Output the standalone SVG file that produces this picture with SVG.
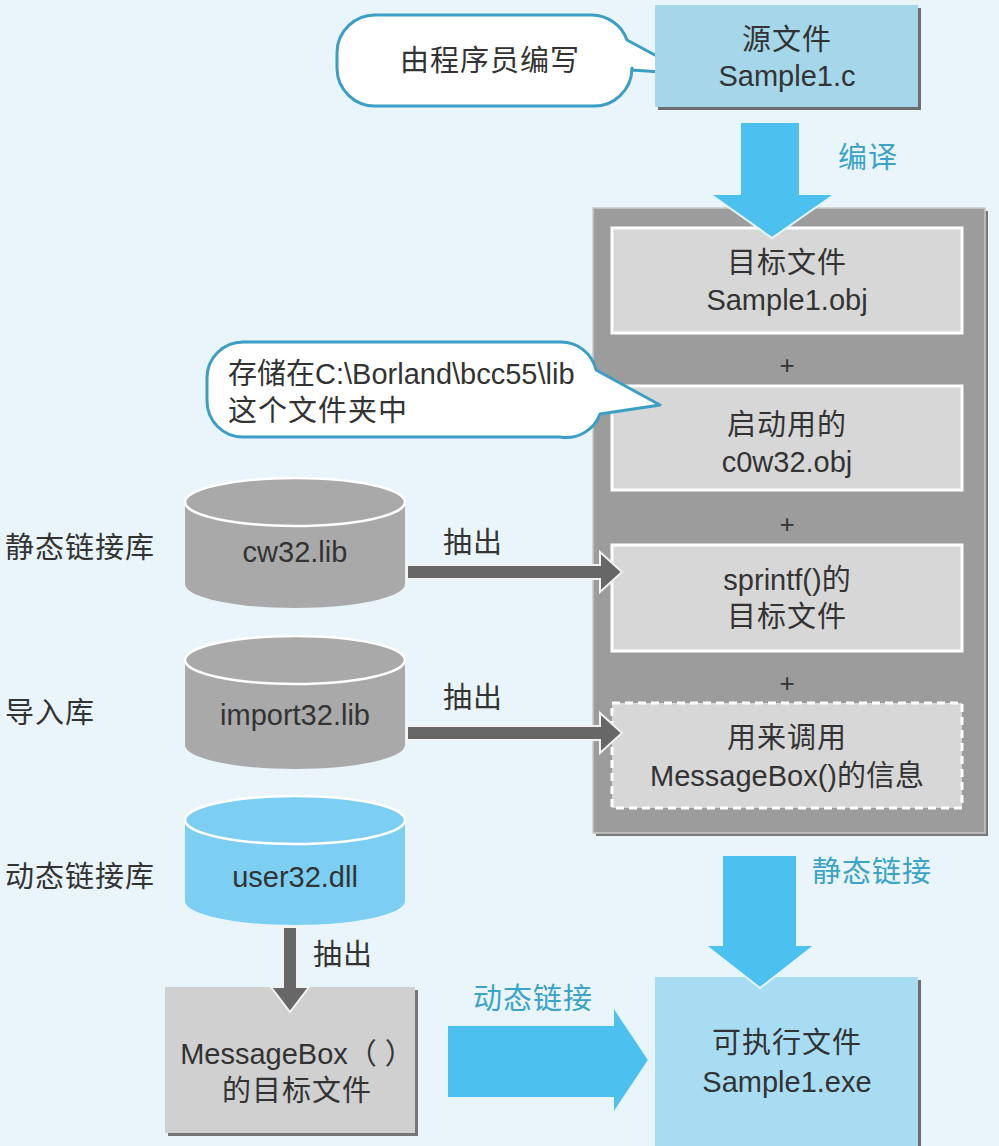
<svg xmlns="http://www.w3.org/2000/svg" width="999" height="1146" viewBox="0 0 999 1146">
  <style>
    text { font-family: "Liberation Sans", "Noto Sans CJK SC", sans-serif; font-size: 29px; fill: #333; }
    .c { text-anchor: middle; }
    .cjk { letter-spacing: 1px; }
    .lbl { fill: #3aa3c6; }
    .plus { font-size: 26px; }
    .callout { fill: #fff; stroke: #3b9ec6; stroke-width: 3; stroke-linejoin: round; }
    .inner { fill: #d7d7d7; stroke: #fff; stroke-width: 3; }
    .dashed { stroke-dasharray: 8 5; }
    .shadow { fill: #6e6e6e; }
    .blue-arrow { fill: #4cc1ef; stroke: #e6f5fc; stroke-width: 2; }
    .gray-arrow { fill: #676767; stroke: #f2f2f2; stroke-width: 2; }
    .cyl-gray { fill: #a9a9a9; }
    .cyl-blue { fill: #7ccff2; }
    .cyl-top { stroke: #fff; stroke-width: 2.5; }
  </style>

  <rect width="999" height="1146" fill="#e9f5fb"/>

  <!-- programmer callout -->
  <g id="callout-programmer">
    <path class="callout" d="M377,15 H592 A38,38 0 0 1 627,40 L690,74 L632,70 V68 A38,38 0 0 1 592,106 H377 A38,38 0 0 1 337,68 V53 A38,38 0 0 1 377,15 Z"/>
    <text class="c cjk" x="490" y="71">由程序员编写</text>
  </g>

  <!-- source file -->
  <g id="source-file">
    <rect class="shadow" x="658" y="8" width="263" height="102"/>
    <rect x="655" y="5" width="263" height="102" fill="#a5d6ea"/>
    <text class="c cjk" x="787" y="50">源文件</text>
    <text class="c" x="787" y="86">Sample1.c</text>
  </g>

  <!-- linker input container -->
  <g id="link-inputs">
    <rect x="596" y="211" width="392" height="625" fill="#7a7a7a"/>
    <rect x="593" y="208" width="392" height="625" fill="#9c9c9c" stroke="#c9c9c9" stroke-width="1.5"/>
  </g>

  <g id="object-sample1">
    <rect class="inner" x="612" y="228" width="350" height="105"/>
    <text class="c cjk" x="787" y="273">目标文件</text>
    <text class="c" x="787" y="310">Sample1.obj</text>
  </g>
  <text class="c plus" x="787" y="374">+</text>

  <g id="object-startup">
    <rect class="inner" x="612" y="386" width="350" height="104"/>
    <text class="c cjk" x="787" y="435">启动用的</text>
    <text class="c" x="787" y="472">c0w32.obj</text>
  </g>
  <text class="c plus" x="787" y="533">+</text>

  <g id="object-sprintf">
    <rect class="inner" x="612" y="545" width="350" height="106"/>
    <text class="c" x="787" y="590">sprintf()的</text>
    <text class="c cjk" x="787" y="627">目标文件</text>
  </g>
  <text class="c plus" x="787" y="692">+</text>

  <g id="import-info">
    <rect class="inner dashed" x="612" y="703" width="350" height="105"/>
    <text class="c cjk" x="787" y="748">用来调用</text>
    <text class="c" x="787" y="786">MessageBox()的信息</text>
  </g>

  <!-- library folder callout -->
  <g id="callout-libdir">
    <path class="callout" d="M243,342 H560 A36,36 0 0 1 596,370 L660,405 L600,414 A36,36 0 0 1 560,437 H243 A36,36 0 0 1 207,401 V378 A36,36 0 0 1 243,342 Z"/>
    <text x="228" y="384">存储在C:\Borland\bcc55\lib</text>
    <text class="cjk" x="228" y="421">这个文件夹中</text>
  </g>

  <!-- libraries -->
  <g id="lib-static">
    <text class="cjk" x="5" y="558">静态链接库</text>
    <path class="cyl-gray" d="M185,502 V584 A110,24 0 0 0 405,584 V502 Z"/>
    <ellipse class="cyl-gray cyl-top" cx="295" cy="502" rx="110" ry="24"/>
    <text class="c" x="295" y="562">cw32.lib</text>
  </g>

  <g id="lib-import">
    <text class="cjk" x="5" y="723">导入库</text>
    <path class="cyl-gray" d="M185,660 V745 A110,24 0 0 0 405,745 V660 Z"/>
    <ellipse class="cyl-gray cyl-top" cx="295" cy="660" rx="110" ry="24"/>
    <text class="c" x="295" y="725">import32.lib</text>
  </g>

  <g id="lib-dynamic">
    <text class="cjk" x="5" y="887">动态链接库</text>
    <path class="cyl-blue" d="M185,820 V901 A110,24 0 0 0 405,901 V820 Z"/>
    <ellipse class="cyl-blue cyl-top" cx="295" cy="820" rx="110" ry="24"/>
    <text class="c" x="295" y="887">user32.dll</text>
  </g>

  <!-- MessageBox object file -->
  <g id="object-messagebox">
    <rect x="168" y="990" width="250" height="146" fill="#777"/>
    <rect x="165" y="987" width="250" height="146" fill="#d0d0d0"/>
    <text class="c" x="297" y="1064">MessageBox（ ）</text>
    <text class="c cjk" x="297" y="1101">的目标文件</text>
  </g>

  <!-- executable -->
  <g id="executable">
    <rect x="658" y="980" width="263" height="168" fill="#6e6e6e"/>
    <rect x="655" y="977" width="263" height="169" fill="#a8dcf3"/>
    <text class="c cjk" x="787" y="1053">可执行文件</text>
    <text class="c" x="787" y="1092">Sample1.exe</text>
  </g>

  <!-- connectors -->
  <g id="connectors">
    <path class="blue-arrow" d="M740,122 H800 V194 H835 L772,238 L710,194 H740 Z"/>
    <text class="lbl cjk" x="838" y="168">编译</text>

    <path class="gray-arrow" d="M407,565 H600 V552 L622,572 L600,592 V579 H407 Z"/>
    <text class="cjk" x="443" y="553">抽出</text>

    <path class="gray-arrow" d="M407,726 H600 V713 L622,733 L600,753 V740 H407 Z"/>
    <text class="cjk" x="443" y="708">抽出</text>

    <path class="gray-arrow" d="M283,927 H297 V987 H309 L290,1012 L271,987 H283 Z"/>
    <text class="cjk" x="313" y="965">抽出</text>

    <path class="blue-arrow" d="M722,855 H797 V945 H815 L760,988 L705,945 H722 Z"/>
    <text class="lbl cjk" x="812" y="882">静态链接</text>

    <path class="blue-arrow" d="M447,1025 H613 V1006 L649,1060 L613,1114 V1098 H447 Z"/>
    <text class="lbl cjk" x="473" y="1009">动态链接</text>
  </g>
</svg>
